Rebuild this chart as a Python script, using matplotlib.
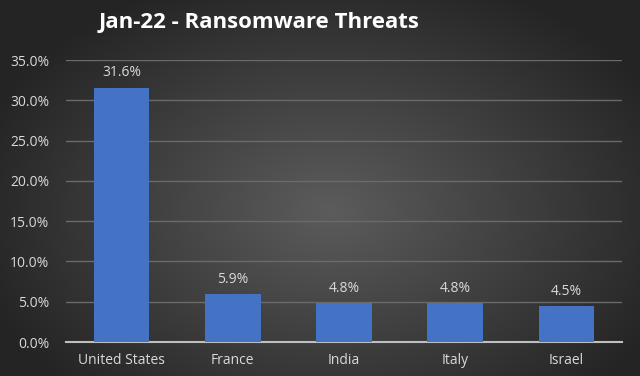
import numpy as np
import matplotlib
matplotlib.use("Agg")
import matplotlib.pyplot as plt
from matplotlib.ticker import FuncFormatter

categories = ["United States", "France", "India", "Italy", "Israel"]
values = [31.6, 5.9, 4.8, 4.8, 4.5]
yticks = [0, 5, 10, 15, 20, 25, 30, 35]

plt.rcParams['font.family'] = ['Open Sans', 'DejaVu Sans']

fig = plt.figure(figsize=(6.4, 3.76), dpi=100)

# radial gradient background
bg = fig.add_axes([0, 0, 1, 1], zorder=0)
W, H = 640, 376
yy, xx = np.mgrid[0:H, 0:W]
cx, cy = 330, 210
r = np.sqrt(((xx - cx) / 370.0) ** 2 + ((yy - cy) / 250.0) ** 2)
r = np.clip(r, 0, 1)
c_in = np.array([0x5c, 0x5c, 0x5c]) / 255.0
c_out = np.array([0x24, 0x24, 0x24]) / 255.0
img = c_in[None, None, :] * (1 - r[..., None]) + c_out[None, None, :] * r[..., None]
bg.imshow(img, aspect='auto', extent=[0, 1, 0, 1], origin='upper')
bg.axis('off')

ax = fig.add_axes([0.103, 0.0904, 0.869, 0.7496], zorder=1)
ax.patch.set_alpha(0)
x = np.arange(len(categories))
bars = ax.bar(x, values, width=0.5, color='#4472C4', zorder=3)
for xi, v in zip(x, values):
    ax.text(xi, v + 0.9, f"{v:.1f}%", ha='center', va='bottom', color='#d9d9d9', fontsize=10)

ax.set_ylim(0, 35)
ax.set_xlim(-0.5, len(categories) - 0.5)
ax.set_yticks(yticks)
ax.yaxis.set_major_formatter(FuncFormatter(lambda v, p: f"{v:.1f}%"))
ax.set_xticks(x)
ax.set_xticklabels(categories)
ax.grid(axis='y', color='#6a6a6a', linewidth=1, zorder=0)
ax.set_axisbelow(True)
for s in ['top', 'right', 'left']:
    ax.spines[s].set_visible(False)
ax.spines['bottom'].set_color('#bfbfbf')
ax.spines['bottom'].set_linewidth(1.5)
ax.tick_params(axis='both', length=0, colors='#d9d9d9', labelsize=10)
ax.tick_params(axis='x', pad=8)
ax.tick_params(axis='y', pad=12)

fig.text(0.405, 0.94, "Jan-22 - Ransomware Threats", ha='center', va='center',
         color='white', fontsize=16, fontweight='bold')

fig.savefig("out.png", dpi=100)
